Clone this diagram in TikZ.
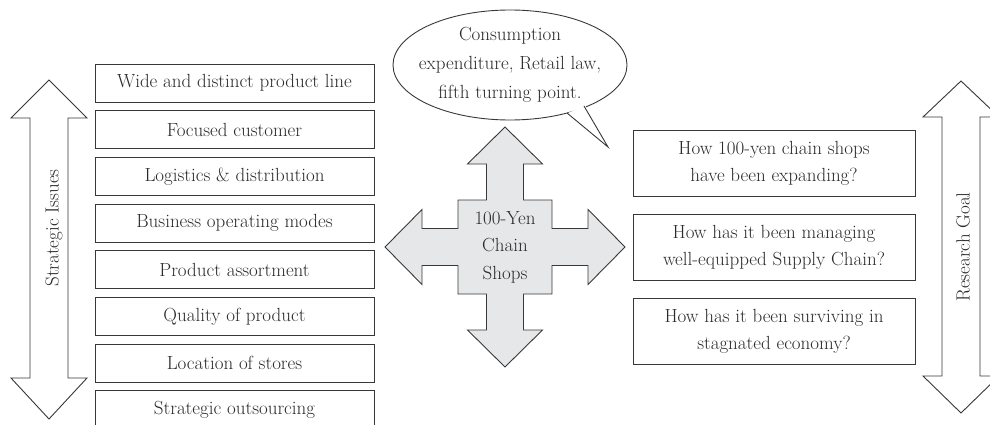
\documentclass[tikz,border=0pt]{standalone}
\usepackage{fontspec}
\definecolor{linec}{HTML}{383838}
\definecolor{txtc}{HTML}{2A2A2A}
\definecolor{crossfill}{HTML}{E6E7E8}
\newcommand{\fs}{\fontsize{19}{27}\selectfont}
\tikzset{
  ln/.style={draw=linec, line width=0.9pt, line join=miter},
  lbox/.style={ln, minimum width=279pt, minimum height=38pt, inner sep=0pt, font=\fs, text=txtc},
  rbox/.style={ln, minimum width=282pt, minimum height=66pt, inner sep=0pt, align=center, font=\fs, text=txtc},
  lbl/.style={inner sep=0pt, font=\fs, text=txtc, align=center},
}
\begin{document}
\begin{tikzpicture}[x=1pt,y=-1pt]
\useasboundingbox (0,0) rectangle (990,425);
% left double arrow
\draw[ln, fill=white] (49,80) -- (87,118) -- (68,118) -- (68,378) -- (87,378) -- (49,419)
  -- (11,378) -- (30,378) -- (30,118) -- (11,118) -- cycle;
\node[lbl, rotate=90] (si) at (54,228) {Strategic Issues};
% right double arrow
\draw[ln, fill=white] (961,81) -- (999,117) -- (980,117) -- (980,376) -- (999,376) -- (961,413)
  -- (923,376) -- (942,376) -- (942,117) -- (923,117) -- cycle;
\node[lbl, rotate=90] (rg) at (963,247) {Research Goal};
% left boxes
\node[lbox] (b1) at (234.5,83.0) {Wide and distinct product line};
\node[lbox] (b2) at (234.5,129.7) {Focused customer};
\node[lbox] (b3) at (234.5,176.4) {Logistics \& distribution};
\node[lbox] (b4) at (234.5,223.1) {Business operating modes};
\node[lbox] (b5) at (234.5,269.8) {Product assortment};
\node[lbox] (b6) at (234.5,316.5) {Quality of product};
\node[lbox] (b7) at (234.5,363.2) {Location of stores};
\node[lbox] (b8) at (234.5,409.9) {Strategic outsourcing};
% right boxes
\node[rbox] (r1) at (774,163.5) {How 100-yen chain shops\\have been expanding?};
\node[rbox] (r2) at (774,247) {How has it been managing\\well-equipped Supply Chain?};
\node[rbox] (r3) at (774,331) {How has it been surviving in\\stagnated economy?};
% central cross
\begin{scope}[shift={(505,247)}]
\draw[ln, fill=crossfill]
  (0,-120) -- (37.5,-83) -- (18.5,-83) -- (18.5,-47) -- (47,-47) -- (47,-18.5) -- (83,-18.5) -- (83,-37.5)
  -- (120,0) -- (83,37.5) -- (83,18.5) -- (47,18.5) -- (47,47) -- (18.5,47) -- (18.5,83) -- (37.5,83)
  -- (0,120) -- (-37.5,83) -- (-18.5,83) -- (-18.5,47) -- (-47,47) -- (-47,18.5) -- (-83,18.5) -- (-83,37.5)
  -- (-120,0) -- (-83,-37.5) -- (-83,-18.5) -- (-47,-18.5) -- (-47,-47) -- (-18.5,-47) -- (-18.5,-83) -- (-37.5,-83)
  -- cycle;
\end{scope}
\node[lbl, font=\fontsize{19}{27.5}\selectfont] (cs) at (505,247) {100-Yen\\Chain\\Shops};
% speech bubble
\draw[ln, fill=white] (510,65) ellipse [x radius=117, y radius=55];
\fill[white] (566,114) -- (608,147) -- (585,105) -- cycle;
\draw[ln] (567,113) -- (608,147) -- (584,106);
\node[lbl, font=\fontsize{19}{29}\selectfont] (sp) at (510,65) {Consumption\\expenditure, Retail law,\\fifth turning point.};
\end{tikzpicture}
\end{document}
